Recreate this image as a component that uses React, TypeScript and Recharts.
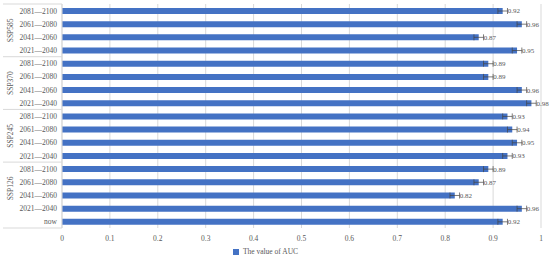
import React from "react";
import {
  Bar,
  BarChart,
  CartesianGrid,
  ErrorBar,
  LabelList,
  Legend,
  XAxis,
  YAxis,
} from "recharts";

const groups = ["SSP585", "SSP370", "SSP245", "SSP126"];
const periods = ["2081—2100", "2061—2080", "2041—2060", "2021—2040"];
const ssp585 = [0.92, 0.96, 0.87, 0.95];
const ssp370 = [0.89, 0.89, 0.96, 0.98];
const ssp245 = [0.93, 0.94, 0.95, 0.93];
const ssp126 = [0.89, 0.87, 0.82, 0.96];
const nowValue = 0.92;
const errorSize = 0.01;
const xTicks = [0, 0.1, 0.2, 0.3, 0.4, 0.5, 0.6, 0.7, 0.8, 0.9, 1];

const groupValues = [ssp585, ssp370, ssp245, ssp126];

const data = [
  ...groups.flatMap((g, gi) =>
    periods.map((p, pi) => ({
      id: `${g}-${p}`,
      period: p,
      group: g,
      pos: pi,
      auc: groupValues[gi][pi],
      err: errorSize,
    }))
  ),
  { id: "now", period: "now", group: "", pos: -1, auc: nowValue, err: errorSize },
];

const FONT = "'Liberation Serif', 'Times New Roman', serif";
const TEXT = "#595959";
const LINE = "#d9d9d9";
const BAR = "#4472C4";

const CHART_H = 260;
const MARGIN_TOP = 4;
const PLOT_BOTTOM = 228;
const ROW = (PLOT_BOTTOM - MARGIN_TOP) / data.length;

const CategoryTick = (props: any) => {
  const { x, y, payload } = props;
  const row = data[payload.index] || data.find((d) => d.id === payload.value);
  if (!row) return null;
  const half = ROW / 2;
  return (
    <g>
      <text
        x={x}
        y={y}
        dy={3}
        textAnchor="end"
        fontSize={7.5}
        fill={TEXT}
        fontFamily={FONT}
      >
        {row.period}
      </text>
      {row.pos === 0 && (
        <line x1={3} x2={62} y1={y - half} y2={y - half} stroke={LINE} />
      )}
      {row.pos === 2 && (
        <text
          x={10}
          y={y - half}
          dy={3}
          textAnchor="middle"
          fontSize={7.5}
          fill={TEXT}
          fontFamily={FONT}
          transform={`rotate(-90 10 ${y - half})`}
        >
          {row.group}
        </text>
      )}
      {row.id === "now" && (
        <line x1={3} x2={62} y1={y + half} y2={y + half} stroke={LINE} />
      )}
    </g>
  );
};

export default function App() {
  return (
    <div
      style={{
        position: "absolute",
        left: 0,
        top: 0,
        width: 550,
        height: CHART_H,
        background: "#fff",
      }}
    >
      <BarChart
        width={550}
        height={CHART_H}
        data={data}
        layout="vertical"
        margin={{ top: MARGIN_TOP, right: 9, left: 0, bottom: 0 }}
        barSize={6}
      >
        <CartesianGrid horizontal={false} stroke={LINE} />
        <XAxis
          type="number"
          domain={[0, 1]}
          ticks={xTicks}
          tickFormatter={(v: number) => String(v)}
          axisLine={false}
          tickLine={false}
          height={14}
          tick={{ fontSize: 7.5, fill: TEXT, fontFamily: FONT }}
        />
        <YAxis
          type="category"
          dataKey="id"
          width={62}
          axisLine={{ stroke: LINE }}
          tickLine={false}
          tickSize={0}
          tickMargin={5}
          interval={0}
          tick={<CategoryTick />}
        />
        <Legend
          verticalAlign="bottom"
          iconType="square"
          iconSize={6}
          wrapperStyle={{
            fontSize: 7.5,
            fontFamily: FONT,
            height: 18,
            bottom: -5,
          }}
          formatter={() => <span style={{ color: TEXT }}>The value of AUC</span>}
        />
        <Bar dataKey="auc" name="The value of AUC" fill={BAR} isAnimationActive={false}>
          <ErrorBar dataKey="err" direction="x" width={3} stroke="#444" strokeWidth={0.7} />
          <LabelList
            dataKey="auc"
            position="right"
            offset={5}
            formatter={(v: any) => Number(v).toFixed(2)}
            style={{ fontSize: 7, fill: TEXT, fontFamily: FONT }}
          />
        </Bar>
      </BarChart>
    </div>
  );
}
